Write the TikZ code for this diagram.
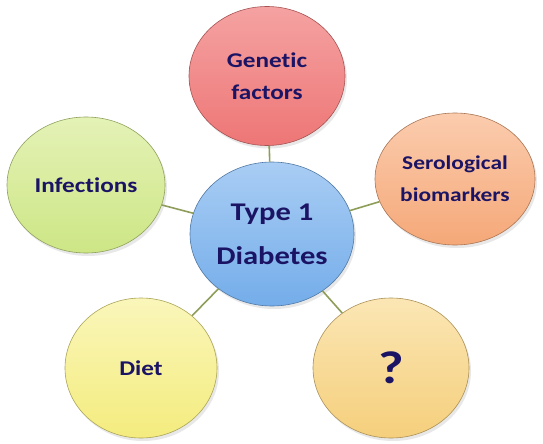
\documentclass[tikz,border=0pt]{standalone}
\usepackage{fontspec}
\setmainfont{Carlito}[Ligatures={NoCommon}, FakeStretch=1.2]
\usetikzlibrary{shapes.geometric,shadows}
\definecolor{txt}{HTML}{1B1464}
\definecolor{link}{HTML}{8E9E5A}
\definecolor{gen}{HTML}{EE7676}
\definecolor{genl}{HTML}{F5A2A2}
\definecolor{ser}{HTML}{F5A878}
\definecolor{serl}{HTML}{FBCCAE}
\definecolor{inf}{HTML}{CDE685}
\definecolor{infl}{HTML}{E4F2B6}
\definecolor{die}{HTML}{F4EC7E}
\definecolor{diel}{HTML}{FAF6BA}
\definecolor{que}{HTML}{F5CF7C}
\definecolor{quel}{HTML}{FBE6B4}
\definecolor{cen}{HTML}{74ADEA}
\definecolor{cenl}{HTML}{A9CDF4}
\tikzset{
  bubble/.style={ellipse, inner sep=0pt, align=center, font=\bfseries\fontsize{21}{32}\selectfont, text=txt,
    draw=#1!70!black, line width=0.6pt, top color=#1l, bottom color=#1,
    drop shadow={opacity=0.18, shadow xshift=2pt, shadow yshift=-3pt}},
  conn/.style={draw=link, line width=1.6pt}
}
\begin{document}
\begin{tikzpicture}[x=1pt,y=-1pt]
\useasboundingbox (0,0) rectangle (543,444);
\fill[white] (0,0) rectangle (543,444);
\node[bubble=gen, minimum width=156pt, minimum height=139pt] (g) at (267,76) {Genetic\\factors};
\node[bubble=inf, minimum width=158pt, minimum height=136pt] (i) at (86,185) {Infections};
\node[bubble=ser, minimum width=160pt, minimum height=132pt, font=\bfseries\fontsize{19.5}{32}\selectfont] (s) at (455,179) {Serological\\biomarkers};
\node[bubble=die, minimum width=152pt, minimum height=140pt] (d) at (141,368) {Diet};
\node[bubble=que, minimum width=156pt, minimum height=140pt, font=\bfseries\fontsize{46}{50}\selectfont] (q) at (391,368) {?};
\node[bubble=cen, minimum width=164pt, minimum height=144pt, font=\bfseries\fontsize{25.5}{44}\selectfont] (c) at (272,234) {Type 1\\Diabetes};
\draw[conn] (c) -- (g);
\draw[conn] (c) -- (i);
\draw[conn] (c) -- (s);
\draw[conn] (c) -- (d);
\draw[conn] (c) -- (q);
\end{tikzpicture}
\end{document}
